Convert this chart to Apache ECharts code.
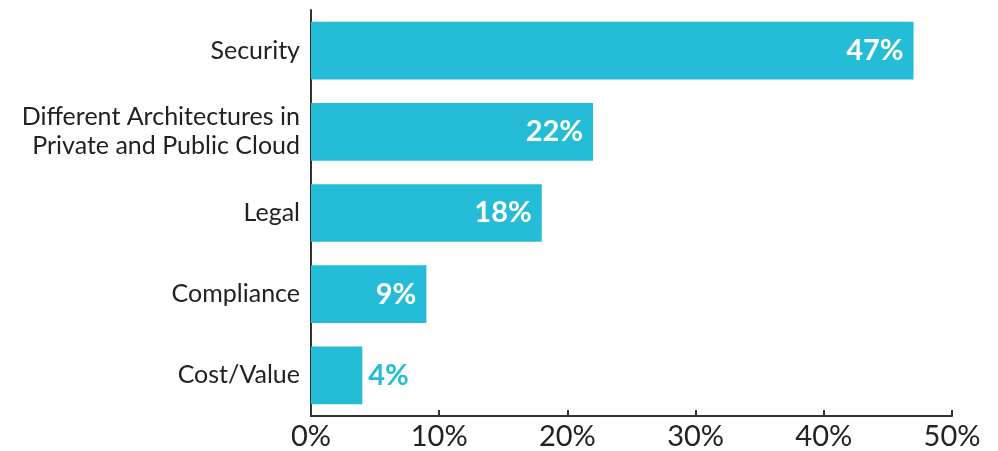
<!DOCTYPE html>
<html>
<head>
<meta charset="utf-8">
<script src="https://cdn.jsdelivr.net/npm/echarts@6/dist/echarts.min.js"></script>
<style>
  html, body { margin: 0; padding: 0; background: #fff; }
  #chart { width: 998px; height: 451px; }
</style>
</head>
<body>
<div id="chart"></div>
<script>
// top to bottom, as in the picture
const categories = ['Security', 'Different Architectures in\nPrivate and Public Cloud', 'Legal', 'Compliance', 'Cost/Value']
const values = [47, 22, 18, 9, 4]
const xTicks = [0, 10, 20, 30, 40, 50]

const barColor = '#25bcd8'
const chart = echarts.init(document.getElementById('chart'))

const option = {
  animation: false,
  grid: { left: 311, right: 46, top: 10, bottom: 33 },
  xAxis: {
    type: 'value',
    min: xTicks[0],
    max: xTicks[xTicks.length - 1],
    interval: 10,
    splitLine: { show: false },
    axisLine: { show: true, lineStyle: { color: '#333', width: 2 } },
    axisTick: { show: true, inside: true, length: 6, lineStyle: { color: '#333', width: 2 } },
    axisLabel: {
      formatter: '{value}%',
      color: '#222',
      fontFamily: 'Lato',
      fontSize: 29,
      margin: 6
    }
  },
  yAxis: {
    type: 'category',
    inverse: true,
    data: categories,
    axisLine: { show: true, lineStyle: { color: '#333', width: 2 } },
    axisTick: { show: false },
    axisLabel: {
      color: '#222',
      fontFamily: 'Lato',
      fontSize: 25,
      lineHeight: 29,
      margin: 11,
      padding: [6, 0, 0, 0],
      align: 'right'
    }
  },
  series: [{
    type: 'bar',
    data: values.map(function (v) {
      // the small bar gets its label outside, in the bar colour
      const small = v < 6
      return {
        value: v,
        label: small ? { position: 'right', color: barColor, distance: 6 } : {}
      }
    }),
    barCategoryGap: '29%',
    itemStyle: { color: barColor },
    label: {
      show: true,
      position: 'insideRight',
      formatter: '{c}%',
      color: '#fff',
      fontFamily: 'Lato',
      fontWeight: 'bold',
      fontSize: 29,
      distance: 10
    }
  }]
}

chart.setOption(option)
</script>
</body>
</html>
